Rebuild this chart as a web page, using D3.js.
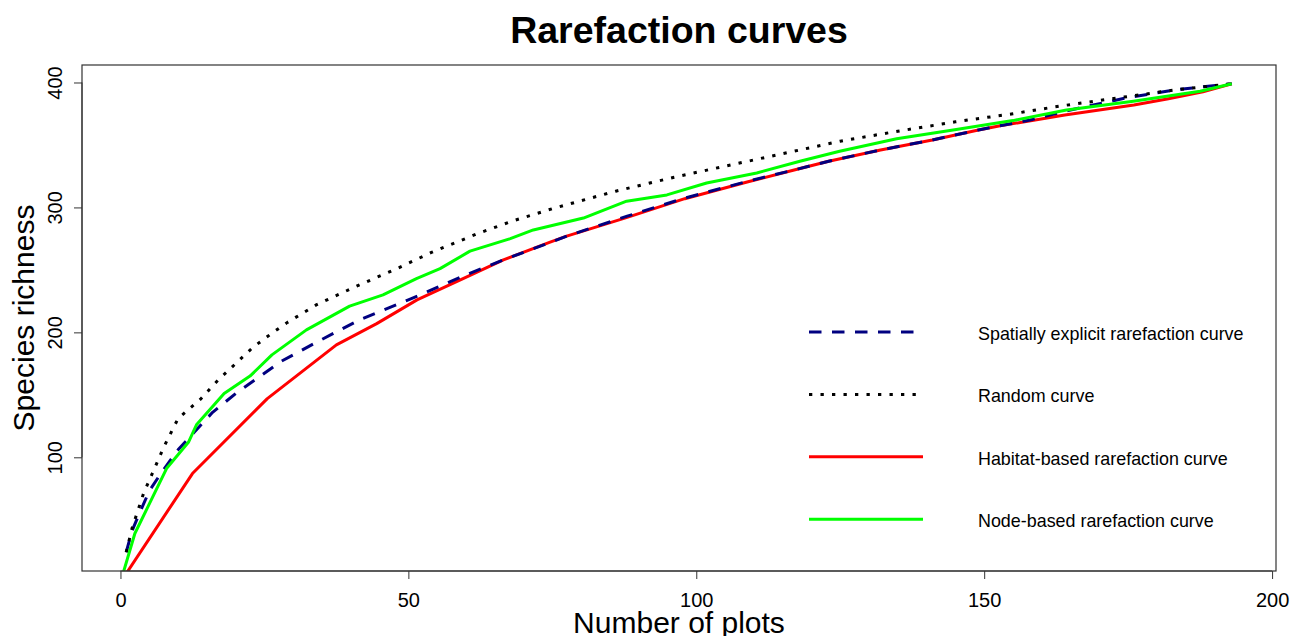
<!DOCTYPE html>
<html>
<head>
<meta charset="utf-8">
<title>Rarefaction curves</title>
<style>
  body { margin: 0; background: #fff; }
  svg text { font-family: "Liberation Sans", Arial, sans-serif; fill: #000; }
</style>
<script src="https://d3js.org/d3.v7.min.js"></script>
</head>
<body>
<svg id="chart" width="1301" height="636"></svg>
<script>
// values
var plotsSpatial = [1, 2, 3, 5, 7, 10, 12, 16, 20, 24, 28, 34, 41.5, 50, 55, 60, 66.5, 73.5, 77.5, 88, 98, 109, 117, 123, 132, 141, 149, 158, 164, 175, 183, 193];
var richSpatial  = [24, 41, 52, 73, 87, 106, 116, 136, 151, 164, 177, 192, 210, 226, 236, 246, 258, 270, 277, 293, 307.5, 321, 330, 337, 346, 354, 362, 370, 377, 388, 394, 399];

var plotsRandom = [1, 2, 4, 6, 7.5, 10, 14, 17, 20, 23, 26.5, 29, 34, 41, 48, 54, 62, 68, 75, 86, 96, 106, 116, 125, 135, 145, 155, 163, 173, 183, 193];
var richRandom  = [24, 43, 71, 92, 108, 131, 147, 162, 175, 188, 200, 208, 222, 237, 251, 264, 279, 289, 299, 313, 324, 334, 344, 353, 361, 368.5, 375, 381, 387.5, 394, 399];

var plotsHabitat = [0, 12.5, 25.5, 37.5, 44.5, 51.5, 59.5, 66.5, 74.5, 77.5, 88, 98, 109, 117, 123, 132, 141, 149, 153, 164, 176, 182, 188, 193];
var richHabitat  = [0, 87, 147, 190, 207, 226, 243, 258, 272, 277, 292, 307, 320.5, 330, 337, 346, 354, 362, 365.5, 374, 382, 387, 392.5, 399];

var plotsNode = [0, 2.5, 8, 11.8, 13.2, 18, 22.5, 26.3, 32.3, 39.8, 45.6, 51.4, 55.5, 60.7, 67.7, 71.7, 80.4, 87.9, 94.9, 101.8, 110.5, 118, 124.9, 134.8, 144.6, 155, 164.3, 175.9, 187.5, 193];
var richNode  = [0, 39, 91, 112, 126, 151, 165, 182, 202, 221, 230, 243, 251, 265, 275, 282, 291.5, 305, 310, 319.6, 327.6, 337, 345, 355, 362, 369.5, 378, 385, 393, 399];

var xTicks = [0, 50, 100, 150, 200];
var yTicks = [100, 200, 300, 400];
var legendLabels = ["Spatially explicit rarefaction curve", "Random curve", "Habitat-based rarefaction curve", "Node-based rarefaction curve"];

var svg = d3.select("#chart");
var pL = 82, pR = 1276, pT = 65, pB = 571;

// R style: limits from the first plotted series, padded 4%
function pad(ext) { var d = (ext[1] - ext[0]) * 0.04; return [ext[0] - d, ext[1] + d]; }
var x = d3.scaleLinear().domain(pad(d3.extent(plotsSpatial))).range([pL, pR]);
var y = d3.scaleLinear().domain(pad(d3.extent(richSpatial))).range([pB, pT]);

svg.append("clipPath").attr("id", "clip")
  .append("rect").attr("x", pL).attr("y", pT).attr("width", pR - pL).attr("height", pB - pT);

var line = d3.line().x(d => x(d[0])).y(d => y(d[1]));
function pairs(a, b) { return a.map((v, i) => [v, b[i]]); }

var series = [
  { name: legendLabels[2], data: pairs(plotsHabitat, richHabitat), color: "#ff0000", dash: null },
  { name: legendLabels[0], data: pairs(plotsSpatial, richSpatial), color: "#000080", dash: "12.5,10.5" },
  { name: legendLabels[1], data: pairs(plotsRandom, richRandom), color: "#000000", dash: "3.3,8.2" },
  { name: legendLabels[3], data: pairs(plotsNode, richNode), color: "#00ff00", dash: null }
];

var g = svg.append("g").attr("clip-path", "url(#clip)");
series.forEach(function(s) {
  g.append("path")
    .attr("d", line(s.data))
    .attr("fill", "none")
    .attr("stroke", s.color)
    .attr("stroke-width", 3)
    .attr("stroke-linejoin", "round")
    .attr("stroke-dasharray", s.dash);
});

// box
svg.append("rect").attr("x", pL).attr("y", pT).attr("width", pR - pL).attr("height", pB - pT)
  .attr("fill", "none").attr("stroke", "#333").attr("stroke-width", 1.2);

// x axis
var xa = svg.append("g").attr("transform", "translate(0," + pB + ")")
  .call(d3.axisBottom(x).tickValues(xTicks).tickSize(8).tickSizeOuter(0));
xa.select(".domain").attr("stroke", "#333").attr("d", "M" + x(0) + ",0H" + x(200));
xa.selectAll("line").attr("stroke", "#333");
xa.selectAll("text").attr("font-size", 20).attr("dy", null).attr("y", 36);

// y axis, labels parallel to axis
var ya = svg.append("g").attr("transform", "translate(" + pL + ",0)")
  .call(d3.axisLeft(y).tickValues(yTicks).tickSize(8).tickSizeOuter(0));
ya.select(".domain").attr("stroke", "#333").attr("d", "M0," + y(100) + "V" + y(400));
ya.selectAll("line").attr("stroke", "#333");
ya.selectAll("text")
  .attr("font-size", 20).attr("x", null).attr("dy", null)
  .attr("text-anchor", "middle")
  .attr("transform", "translate(-20.5,0) rotate(-90)");

// titles
svg.append("text").attr("x", (pL + pR) / 2).attr("y", 43).attr("text-anchor", "middle")
  .attr("font-size", 37.5).attr("font-weight", "bold").text("Rarefaction curves");
svg.append("text").attr("x", (pL + pR) / 2).attr("y", 633).attr("text-anchor", "middle")
  .attr("font-size", 30).text("Number of plots");
svg.append("text").attr("transform", "translate(33.5," + ((pT + pB) / 2) + ") rotate(-90)")
  .attr("text-anchor", "middle").attr("font-size", 30).text("Species richness");

// legend
var legendOrder = [series[1], series[2], series[0], series[3]];
var lg = svg.append("g");
legendOrder.forEach(function(s, i) {
  var ly = 332 + i * 62.4;
  lg.append("line").attr("x1", 809).attr("x2", 923).attr("y1", ly).attr("y2", ly)
    .attr("stroke", s.color).attr("stroke-width", 3).attr("stroke-dasharray", s.dash);
  lg.append("text").attr("x", 978).attr("y", ly + 8).attr("font-size", 17.9).text(s.name);
});
</script>
</body>
</html>
